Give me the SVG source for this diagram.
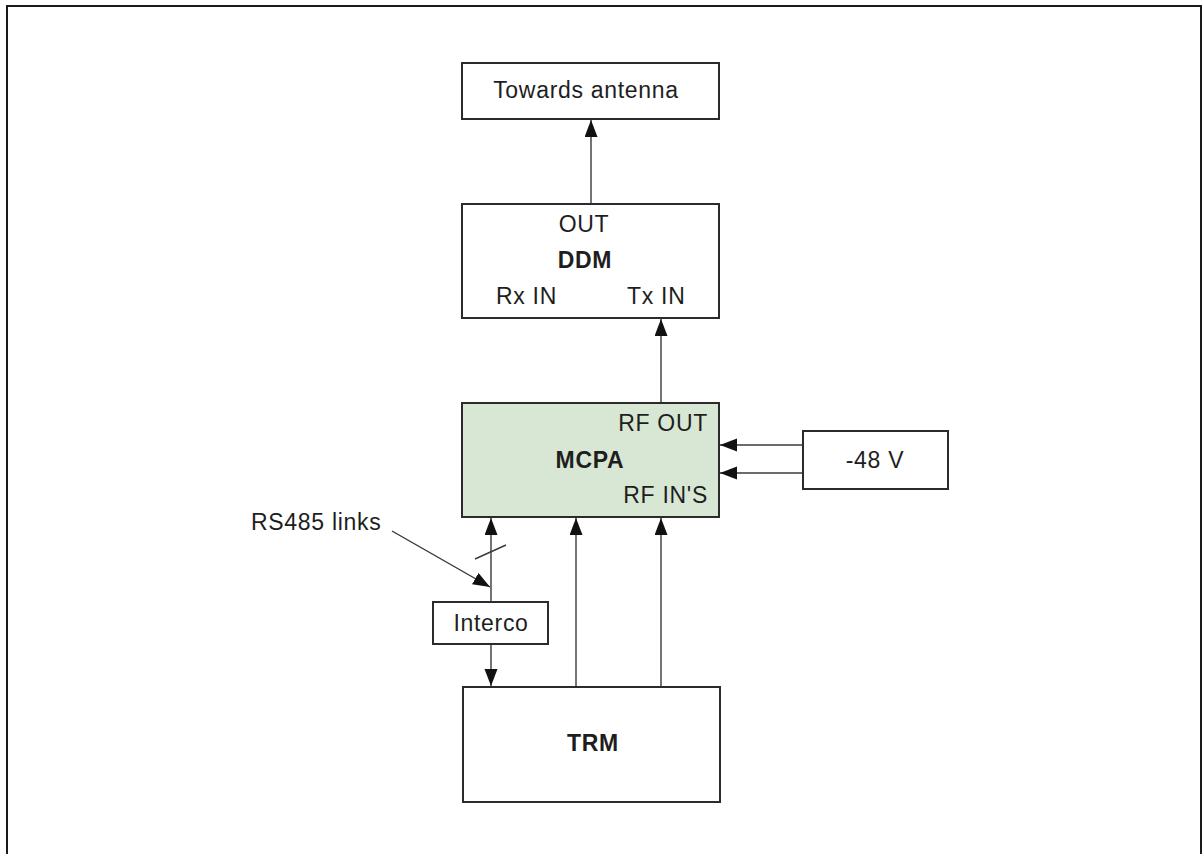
<svg xmlns="http://www.w3.org/2000/svg" width="1204" height="854" viewBox="0 0 1204 854">
  <defs>
    <style>
      .box { fill: #ffffff; stroke: #2b2b2b; stroke-width: 2; }
      .pa { fill: #d8e7d3; stroke: #2b2b2b; stroke-width: 2; }
      .lbl { font-family: "Liberation Sans", Arial, sans-serif; font-size: 23px; letter-spacing: 0.7px; fill: #1e1e1e; }
      .bold { font-weight: bold; }
      .mid { text-anchor: middle; }
      .end { text-anchor: end; }
      .wire { stroke: #3a3a3a; stroke-width: 1.4; fill: none; }
    </style>
    <marker id="head" markerUnits="userSpaceOnUse" markerWidth="18" markerHeight="14" refX="17" refY="6.5" orient="auto">
      <path d="M0,0 L17,6.5 L0,13 z" fill="#111111"/>
    </marker>
  </defs>

  <!-- page frame -->
  <rect x="0" y="0" width="1204" height="854" fill="#ffffff"/>
  <path d="M7,860 L7,6 L1201,6 L1201,860" fill="none" stroke="#1a1a1a" stroke-width="2"/>

  <!-- connectors -->
  <g id="connectors">
    <line class="wire" x1="591" y1="204" x2="591" y2="120" marker-end="url(#head)"/>
    <line class="wire" x1="661" y1="403" x2="661" y2="319" marker-end="url(#head)"/>
    <line class="wire" x1="803" y1="445" x2="720" y2="445" marker-end="url(#head)"/>
    <line class="wire" x1="803" y1="473" x2="720" y2="473" marker-end="url(#head)"/>
    <line class="wire" x1="491" y1="602" x2="491" y2="518" marker-end="url(#head)"/>
    <line class="wire" x1="491" y1="644" x2="491" y2="686" marker-end="url(#head)"/>
    <line class="wire" x1="576" y1="687" x2="576" y2="518" marker-end="url(#head)"/>
    <line class="wire" x1="661" y1="687" x2="661" y2="518" marker-end="url(#head)"/>
    <!-- bus tick on the RS485 line -->
    <line class="wire" x1="475" y1="559" x2="506" y2="545"/>
    <!-- callout pointer -->
    <line class="wire" x1="392" y1="531" x2="490" y2="587" marker-end="url(#head)"/>
  </g>

  <g id="antenna">
    <rect class="box" x="462" y="63" width="257" height="56"/>
    <text class="lbl mid" x="586" y="98">Towards antenna</text>
  </g>

  <g id="ddm">
    <rect class="box" x="462" y="204" width="257" height="114"/>
    <text class="lbl mid" x="584" y="232">OUT</text>
    <text class="lbl mid bold" x="585" y="268">DDM</text>
    <text class="lbl" x="496" y="304">Rx IN</text>
    <text class="lbl" x="627" y="304">Tx IN</text>
  </g>

  <g id="mcpa">
    <rect class="pa" x="462" y="403" width="257" height="114"/>
    <text class="lbl end" x="708" y="431">RF OUT</text>
    <text class="lbl mid bold" x="590" y="468">MCPA</text>
    <text class="lbl end" x="708" y="503">RF IN'S</text>
  </g>

  <g id="supply">
    <rect class="box" x="803" y="431" width="145" height="58"/>
    <text class="lbl mid" x="875" y="468">-48 V</text>
  </g>

  <g id="rs485-label">
    <text class="lbl" x="251" y="530">RS485 links</text>
  </g>

  <g id="interco">
    <rect class="box" x="433" y="602" width="115" height="42"/>
    <text class="lbl mid" x="491" y="631">Interco</text>
  </g>

  <g id="trm">
    <rect class="box" x="463" y="687" width="257" height="115"/>
    <text class="lbl mid bold" x="593" y="751">TRM</text>
  </g>
</svg>
